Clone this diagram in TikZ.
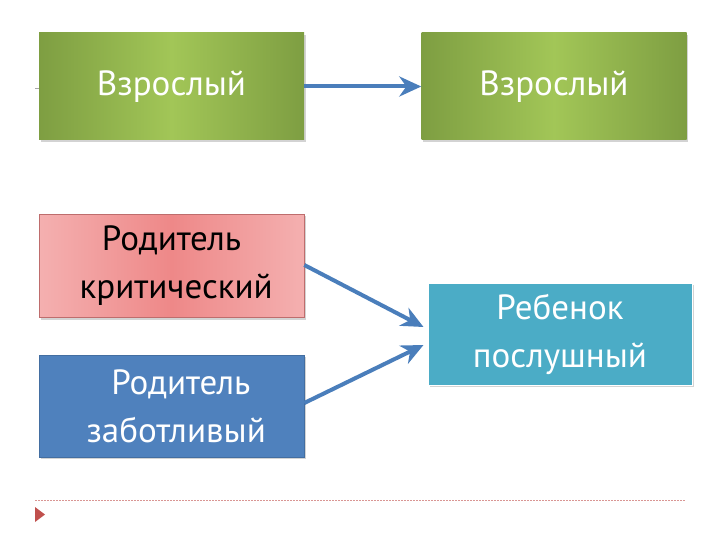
\documentclass[tikz,border=0pt]{standalone}
\usepackage{fontspec}
\setmainfont{PT Sans}
\usetikzlibrary{shadows,arrows.meta}
\definecolor{grnD}{HTML}{7E9E42}
\definecolor{grnL}{HTML}{A2C657}
\definecolor{pinkD}{HTML}{F4B0B0}
\definecolor{pinkL}{HTML}{EE8888}
\definecolor{bluebox}{HTML}{4F81BD}
\definecolor{tealbox}{HTML}{4BACC6}
\definecolor{arrowblue}{HTML}{4A7EBB}
\definecolor{dotred}{HTML}{C0504D}
\tikzset{
  box/.style={minimum width=265pt, align=center, font=\fontsize{35}{48}\selectfont,
    drop shadow={shadow xshift=1.5pt, shadow yshift=-2pt, opacity=0.35}},
  greenbox/.style={box, minimum height=107pt, text=white, left color=grnD, right color=grnD, middle color=grnL},
  pinkbox/.style={box, minimum height=103pt, text=black, left color=pinkD, right color=pinkD, middle color=pinkL, draw=pinkL!80!black, line width=0.6pt},
  bluebx/.style={box, minimum height=102pt, text=white, fill=bluebox, draw=bluebox!85!black, line width=0.6pt},
  tealbx/.style={box, minimum height=102pt, minimum width=264pt, text=white, fill=tealbox, draw=white, line width=1pt},
  conn/.style={draw=arrowblue, line width=4pt, -{Stealth[length=22pt,width=20pt,inset=7pt]}}
}
\begin{document}
\begin{tikzpicture}[x=1pt,y=-1pt]
\useasboundingbox (0,0) rectangle (720,540);
\node[greenbox] (g1) at (171.5,86.5) {Взрослый};
\node[greenbox] (g2) at (554,86.5) {Взрослый};
\node[pinkbox] (p) at (171.5,266) {Родитель\\ \ критический};
\node[bluebx] (b) at (171.5,406) {\ \ Родитель\\ \ заботливый};
\node[tealbx] (t) at (560,334) {Ребенок\\послушный};
\coordinate (stub) at (35,88);
\draw[gray!70, line width=0.6pt] (stub) -- (g1.west |- stub);
\draw[conn] (g1.east) -- (g2.west);
\draw[conn] (p.east |- 0,265) -- ([xshift=-4pt,yshift=7pt]t.west);
\draw[conn] (b.east |- 0,403) -- ([xshift=-4pt,yshift=-11pt]t.west);
\coordinate (d1) at (35,500);
\coordinate (d2) at (686,500);
\draw[dotred!60, line width=0.8pt, dash pattern=on 1.5pt off 1.5pt] (d1) -- (d2);
\fill[dotred] (35,507) -- (45,514.5) -- (35,522) -- cycle;
\end{tikzpicture}
\end{document}
